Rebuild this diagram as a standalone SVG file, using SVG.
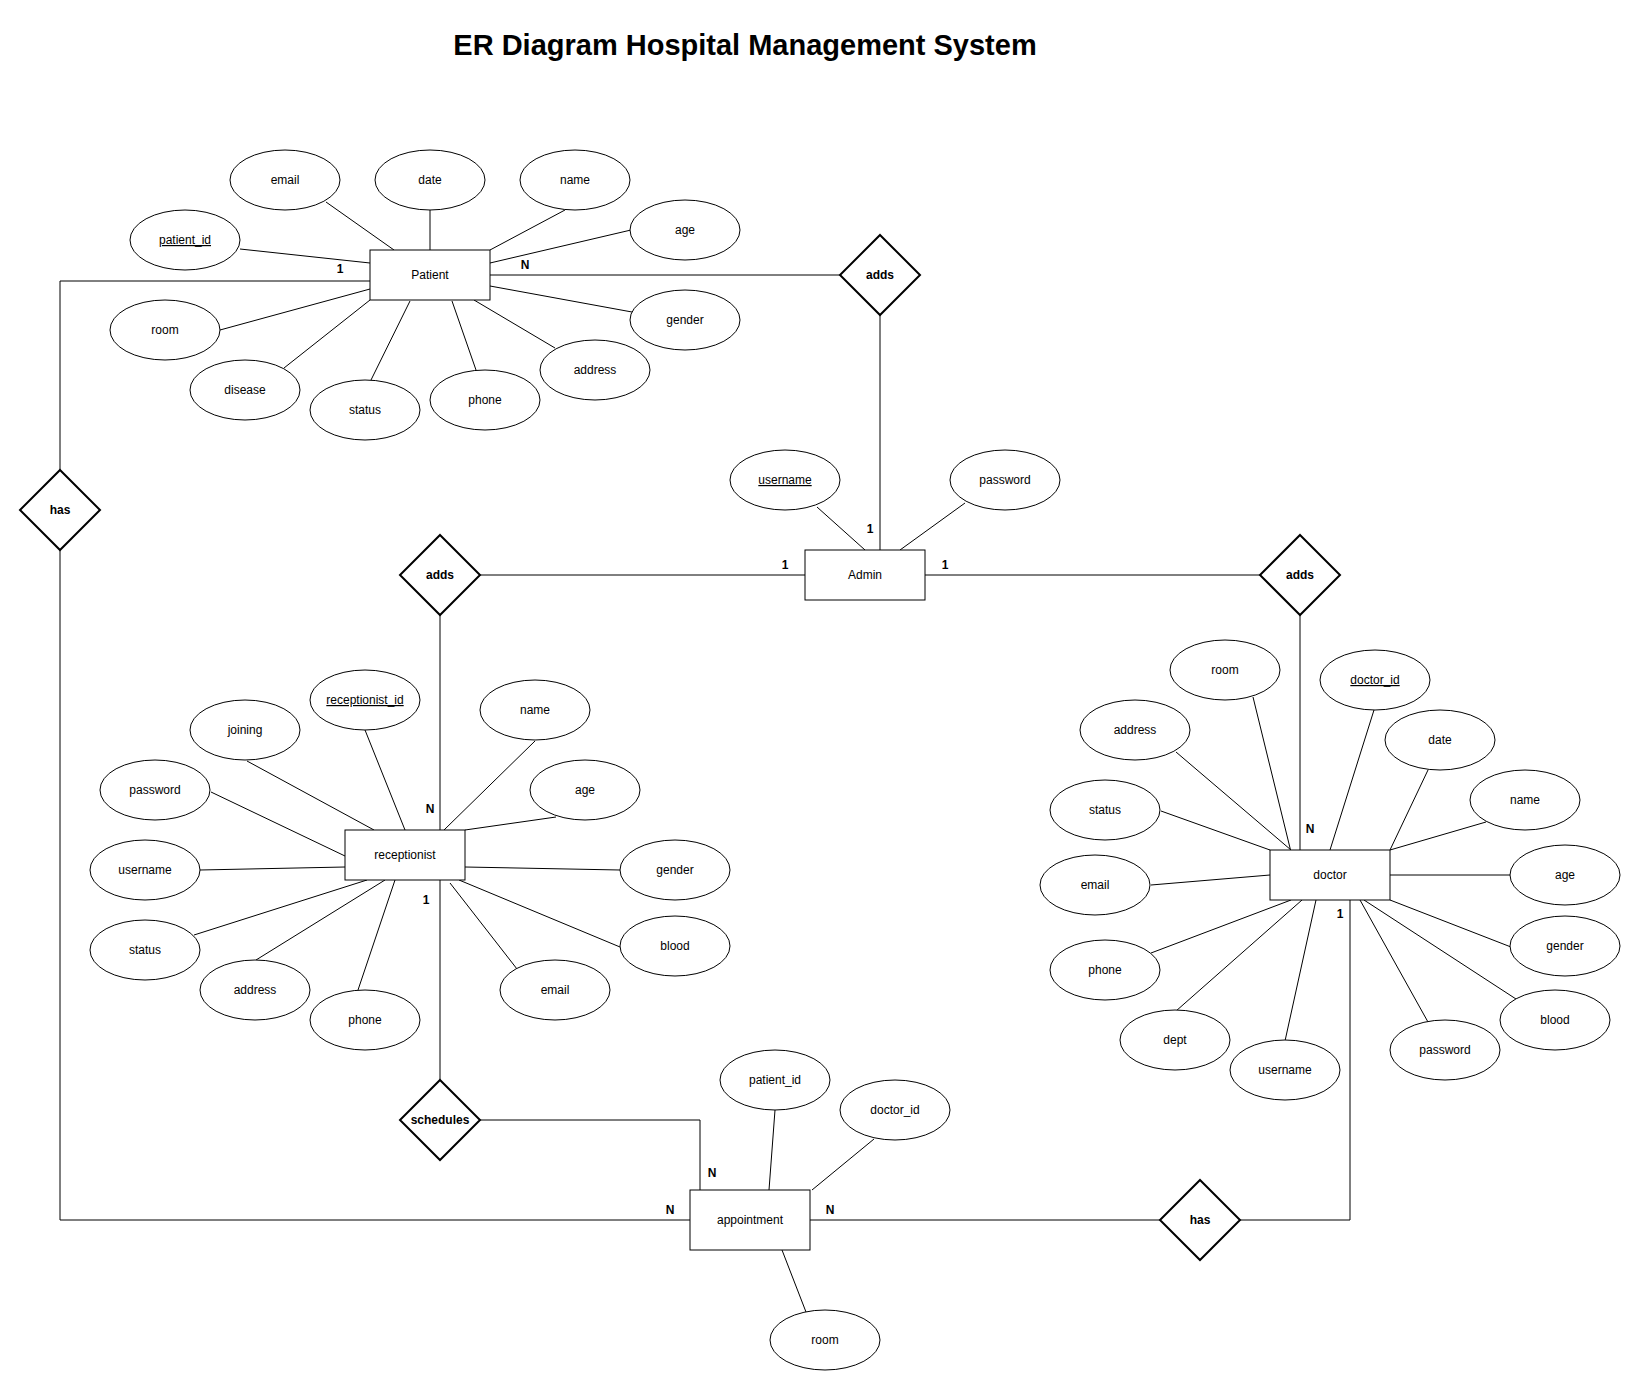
<svg xmlns="http://www.w3.org/2000/svg" width="1642" height="1391" viewBox="0 0 1642 1391">
<style>
text{font-family:"Liberation Sans",Arial,Helvetica,sans-serif;font-size:12px;fill:#000;text-anchor:middle}
.attr ellipse{fill:#fff;stroke:#000;stroke-width:1}
.ent rect{fill:#fff;stroke:#000;stroke-width:1}
.rel polygon{fill:#fff;stroke:#000;stroke-width:2}
.rel text,.card{font-weight:bold}
.key{text-decoration:underline}
#connectors line,#connectors polyline{stroke:#000;stroke-width:1;fill:none}
.title{font-size:29px;font-weight:bold}
</style>
<rect width="1642" height="1391" fill="#fff"/>
<text class="title" x="745" y="55">ER Diagram Hospital Management System</text>
<g id="connectors">
<line x1="240" y1="249" x2="370" y2="263"/>
<line x1="326" y1="202" x2="394" y2="250"/>
<line x1="430" y1="210" x2="430" y2="250"/>
<line x1="565" y1="210" x2="490" y2="250"/>
<line x1="631" y1="230" x2="490" y2="263"/>
<line x1="220" y1="330" x2="370" y2="289"/>
<line x1="284" y1="368" x2="370" y2="300"/>
<line x1="371" y1="380" x2="410" y2="301"/>
<line x1="476" y1="370" x2="452" y2="301"/>
<line x1="555" y1="348" x2="474" y2="300"/>
<line x1="632" y1="312" x2="490" y2="286"/>
<line x1="490" y1="275" x2="840" y2="275"/>
<polyline points="370,281 60,281 60,470"/>
<polyline points="60,550 60,1220 690,1220"/>
<line x1="880" y1="315" x2="880" y2="550"/>
<line x1="480" y1="575" x2="805" y2="575"/>
<line x1="925" y1="575" x2="1260" y2="575"/>
<line x1="440" y1="615" x2="440" y2="830"/>
<line x1="1300" y1="615" x2="1300" y2="850"/>
<line x1="440" y1="880" x2="440" y2="1080"/>
<polyline points="480,1120 700,1120 700,1190"/>
<line x1="810" y1="1220" x2="1160" y2="1220"/>
<polyline points="1240,1220 1350,1220 1350,900"/>
<line x1="817" y1="507" x2="865" y2="550"/>
<line x1="965" y1="503" x2="900" y2="550"/>
<line x1="365" y1="730" x2="405" y2="830"/>
<line x1="247" y1="761" x2="374" y2="830"/>
<line x1="535" y1="741" x2="444" y2="830"/>
<line x1="211" y1="792" x2="345" y2="856"/>
<line x1="556" y1="817" x2="465" y2="830"/>
<line x1="200" y1="870" x2="345" y2="867"/>
<line x1="620" y1="870" x2="465" y2="867"/>
<line x1="194" y1="935" x2="367" y2="880"/>
<line x1="256" y1="960" x2="385" y2="880"/>
<line x1="358" y1="990" x2="395" y2="880"/>
<line x1="517" y1="969" x2="450" y2="883"/>
<line x1="620" y1="947" x2="459" y2="880"/>
<line x1="775" y1="1110" x2="769" y2="1190"/>
<line x1="874" y1="1139" x2="812" y2="1190"/>
<line x1="782" y1="1250" x2="806" y2="1312"/>
<line x1="1253" y1="697" x2="1291" y2="852"/>
<line x1="1374" y1="710" x2="1330" y2="850"/>
<line x1="1176" y1="752" x2="1291" y2="850"/>
<line x1="1428" y1="770" x2="1390" y2="850"/>
<line x1="1161" y1="811" x2="1270" y2="850"/>
<line x1="1486" y1="822" x2="1390" y2="850"/>
<line x1="1151" y1="885" x2="1270" y2="875"/>
<line x1="1511" y1="875" x2="1390" y2="875"/>
<line x1="1151" y1="953" x2="1291" y2="900"/>
<line x1="1176" y1="1011" x2="1302" y2="900"/>
<line x1="1285" y1="1041" x2="1316" y2="900"/>
<line x1="1428" y1="1022" x2="1360" y2="900"/>
<line x1="1516" y1="999" x2="1364" y2="900"/>
<line x1="1511" y1="947" x2="1390" y2="900"/>
</g>
<g id="cardinalities">
<text class="card" x="340" y="273">1</text>
<text class="card" x="525" y="269">N</text>
<text class="card" x="870" y="533">1</text>
<text class="card" x="785" y="569">1</text>
<text class="card" x="945" y="569">1</text>
<text class="card" x="430" y="813">N</text>
<text class="card" x="426" y="904">1</text>
<text class="card" x="1310" y="833">N</text>
<text class="card" x="1340" y="918">1</text>
<text class="card" x="712" y="1177">N</text>
<text class="card" x="670" y="1214">N</text>
<text class="card" x="830" y="1214">N</text>
</g>
<g id="patient" class="ent"><rect x="370" y="250" width="120" height="50"/><text x="430" y="279">Patient</text></g>
<g id="admin" class="ent"><rect x="805" y="550" width="120" height="50"/><text x="865" y="579">Admin</text></g>
<g id="receptionist" class="ent"><rect x="345" y="830" width="120" height="50"/><text x="405" y="859">receptionist</text></g>
<g id="doctor" class="ent"><rect x="1270" y="850" width="120" height="50"/><text x="1330" y="879">doctor</text></g>
<g id="appointment" class="ent"><rect x="690" y="1190" width="120" height="60"/><text x="750" y="1224">appointment</text></g>
<g id="rel-adds-patient" class="rel"><polygon points="880,235 920,275 880,315 840,275"/><text x="880" y="279">adds</text></g>
<g id="rel-has-patient" class="rel"><polygon points="60,470 100,510 60,550 20,510"/><text x="60" y="514">has</text></g>
<g id="rel-adds-receptionist" class="rel"><polygon points="440,535 480,575 440,615 400,575"/><text x="440" y="579">adds</text></g>
<g id="rel-adds-doctor" class="rel"><polygon points="1300,535 1340,575 1300,615 1260,575"/><text x="1300" y="579">adds</text></g>
<g id="rel-schedules" class="rel"><polygon points="440,1080 480,1120 440,1160 400,1120"/><text x="440" y="1124">schedules</text></g>
<g id="rel-has-doctor" class="rel"><polygon points="1200,1180 1240,1220 1200,1260 1160,1220"/><text x="1200" y="1224">has</text></g>
<g id="p-email" class="attr"><ellipse cx="285" cy="180" rx="55" ry="30"/><text x="285" y="184">email</text></g>
<g id="p-date" class="attr"><ellipse cx="430" cy="180" rx="55" ry="30"/><text x="430" y="184">date</text></g>
<g id="p-name" class="attr"><ellipse cx="575" cy="180" rx="55" ry="30"/><text x="575" y="184">name</text></g>
<g id="p-age" class="attr"><ellipse cx="685" cy="230" rx="55" ry="30"/><text x="685" y="234">age</text></g>
<g id="p-patient_id" class="attr"><ellipse cx="185" cy="240" rx="55" ry="30"/><text class="key" x="185" y="244">patient_id</text></g>
<g id="p-room" class="attr"><ellipse cx="165" cy="330" rx="55" ry="30"/><text x="165" y="334">room</text></g>
<g id="p-disease" class="attr"><ellipse cx="245" cy="390" rx="55" ry="30"/><text x="245" y="394">disease</text></g>
<g id="p-status" class="attr"><ellipse cx="365" cy="410" rx="55" ry="30"/><text x="365" y="414">status</text></g>
<g id="p-phone" class="attr"><ellipse cx="485" cy="400" rx="55" ry="30"/><text x="485" y="404">phone</text></g>
<g id="p-address" class="attr"><ellipse cx="595" cy="370" rx="55" ry="30"/><text x="595" y="374">address</text></g>
<g id="p-gender" class="attr"><ellipse cx="685" cy="320" rx="55" ry="30"/><text x="685" y="324">gender</text></g>
<g id="a-username" class="attr"><ellipse cx="785" cy="480" rx="55" ry="30"/><text class="key" x="785" y="484">username</text></g>
<g id="a-password" class="attr"><ellipse cx="1005" cy="480" rx="55" ry="30"/><text x="1005" y="484">password</text></g>
<g id="r-receptionist_id" class="attr"><ellipse cx="365" cy="700" rx="55" ry="30"/><text class="key" x="365" y="704">receptionist_id</text></g>
<g id="r-joining" class="attr"><ellipse cx="245" cy="730" rx="55" ry="30"/><text x="245" y="734">joining</text></g>
<g id="r-name" class="attr"><ellipse cx="535" cy="710" rx="55" ry="30"/><text x="535" y="714">name</text></g>
<g id="r-password" class="attr"><ellipse cx="155" cy="790" rx="55" ry="30"/><text x="155" y="794">password</text></g>
<g id="r-age" class="attr"><ellipse cx="585" cy="790" rx="55" ry="30"/><text x="585" y="794">age</text></g>
<g id="r-username" class="attr"><ellipse cx="145" cy="870" rx="55" ry="30"/><text x="145" y="874">username</text></g>
<g id="r-gender" class="attr"><ellipse cx="675" cy="870" rx="55" ry="30"/><text x="675" y="874">gender</text></g>
<g id="r-status" class="attr"><ellipse cx="145" cy="950" rx="55" ry="30"/><text x="145" y="954">status</text></g>
<g id="r-address" class="attr"><ellipse cx="255" cy="990" rx="55" ry="30"/><text x="255" y="994">address</text></g>
<g id="r-phone" class="attr"><ellipse cx="365" cy="1020" rx="55" ry="30"/><text x="365" y="1024">phone</text></g>
<g id="r-email" class="attr"><ellipse cx="555" cy="990" rx="55" ry="30"/><text x="555" y="994">email</text></g>
<g id="r-blood" class="attr"><ellipse cx="675" cy="946" rx="55" ry="30"/><text x="675" y="950">blood</text></g>
<g id="ap-patient_id" class="attr"><ellipse cx="775" cy="1080" rx="55" ry="30"/><text x="775" y="1084">patient_id</text></g>
<g id="ap-doctor_id" class="attr"><ellipse cx="895" cy="1110" rx="55" ry="30"/><text x="895" y="1114">doctor_id</text></g>
<g id="ap-room" class="attr"><ellipse cx="825" cy="1340" rx="55" ry="30"/><text x="825" y="1344">room</text></g>
<g id="d-room" class="attr"><ellipse cx="1225" cy="670" rx="55" ry="30"/><text x="1225" y="674">room</text></g>
<g id="d-doctor_id" class="attr"><ellipse cx="1375" cy="680" rx="55" ry="30"/><text class="key" x="1375" y="684">doctor_id</text></g>
<g id="d-address" class="attr"><ellipse cx="1135" cy="730" rx="55" ry="30"/><text x="1135" y="734">address</text></g>
<g id="d-date" class="attr"><ellipse cx="1440" cy="740" rx="55" ry="30"/><text x="1440" y="744">date</text></g>
<g id="d-status" class="attr"><ellipse cx="1105" cy="810" rx="55" ry="30"/><text x="1105" y="814">status</text></g>
<g id="d-name" class="attr"><ellipse cx="1525" cy="800" rx="55" ry="30"/><text x="1525" y="804">name</text></g>
<g id="d-email" class="attr"><ellipse cx="1095" cy="885" rx="55" ry="30"/><text x="1095" y="889">email</text></g>
<g id="d-age" class="attr"><ellipse cx="1565" cy="875" rx="55" ry="30"/><text x="1565" y="879">age</text></g>
<g id="d-phone" class="attr"><ellipse cx="1105" cy="970" rx="55" ry="30"/><text x="1105" y="974">phone</text></g>
<g id="d-dept" class="attr"><ellipse cx="1175" cy="1040" rx="55" ry="30"/><text x="1175" y="1044">dept</text></g>
<g id="d-username" class="attr"><ellipse cx="1285" cy="1070" rx="55" ry="30"/><text x="1285" y="1074">username</text></g>
<g id="d-password" class="attr"><ellipse cx="1445" cy="1050" rx="55" ry="30"/><text x="1445" y="1054">password</text></g>
<g id="d-blood" class="attr"><ellipse cx="1555" cy="1020" rx="55" ry="30"/><text x="1555" y="1024">blood</text></g>
<g id="d-gender" class="attr"><ellipse cx="1565" cy="946" rx="55" ry="30"/><text x="1565" y="950">gender</text></g>
</svg>
